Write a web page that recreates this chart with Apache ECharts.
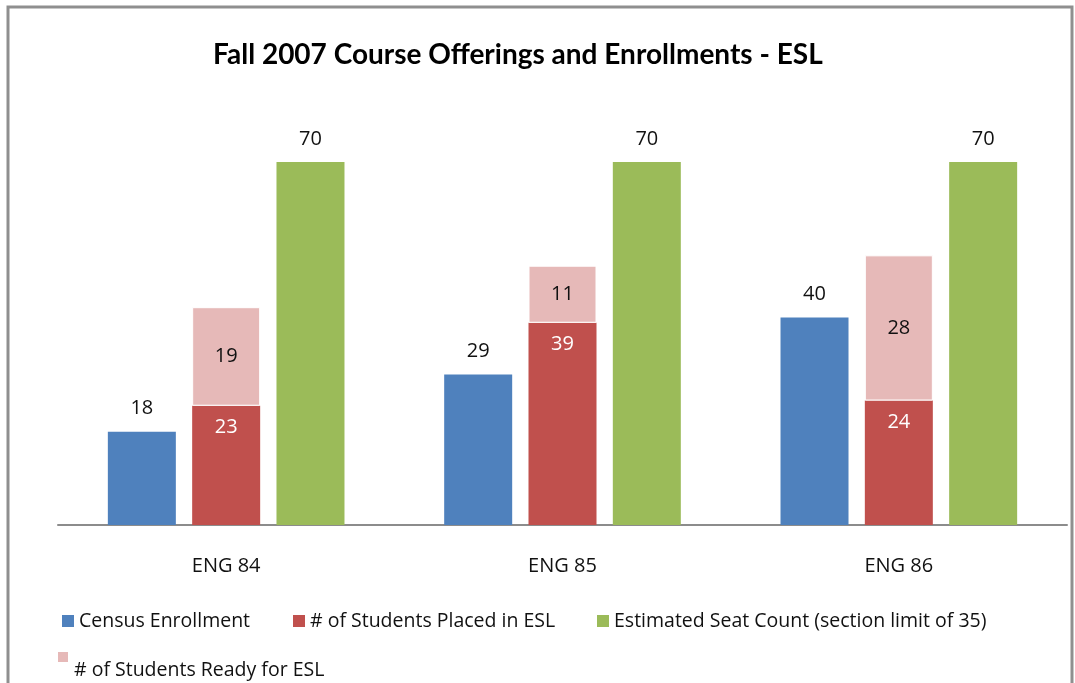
<!DOCTYPE html>
<html>
<head>
<meta charset="utf-8">
<script src="https://cdn.jsdelivr.net/npm/echarts@6/dist/echarts.min.js"></script>
<style>
html,body{margin:0;padding:0;background:#fff;}
#chart{width:1075px;height:683px;}
</style>
</head>
<body>
<div id="chart"></div>
<script>
const titleText = 'Fall 2007 Course Offerings and Enrollments - ESL';
const categories = ['ENG 84', 'ENG 85', 'ENG 86'];
const censusEnrollment = [18, 29, 40];
const placedInESL = [23, 39, 24];
const readyForESL = [19, 11, 28];
const seatCount = [70, 70, 70];
const seriesNames = ['Census Enrollment', '# of Students Placed in ESL', 'Estimated Seat Count (section limit of 35)', '# of Students Ready for ESL'];

const FONT = '"Open Sans", sans-serif';
const chart = echarts.init(document.getElementById('chart'));
const lblTop = { show: true, position: 'top', distance: 13, color: '#111', fontSize: 20, fontFamily: FONT };

const legendBase = (name, left, top) => ({
  data: [name], left: left, top: top, icon: 'rect', itemWidth: 12, itemHeight: 12, itemGap: 5,
  textStyle: { fontFamily: FONT, fontSize: 19.5, color: '#111' }
});

chart.setOption({
  backgroundColor: '#fff',
  animation: false,
  title: {
    text: titleText, left: 208, top: 36,
    textStyle: { fontFamily: 'Lato, sans-serif', fontWeight: 'bold', fontSize: 28, color: '#000' }
  },
  graphic: [{
    type: 'rect', shape: { x: 8, y: 7, width: 1064, height: 700 },
    style: { fill: 'none', stroke: '#8f8f8f', lineWidth: 3 }, silent: true, z: 100
  }],
  legend: [
    legendBase(seriesNames[0], 57, 606),
    legendBase(seriesNames[1], 288, 606),
    legendBase(seriesNames[2], 592, 606),
    Object.assign(legendBase(seriesNames[3], 51, 645), {
      icon: 'path://M0,0H12V12H0Z M0,38.99H12V39H0Z',
      itemWidth: 12, itemHeight: 39, itemGap: 8
    })
  ],
  grid: { left: 58, right: 8, top: 162, bottom: 158 },
  xAxis: {
    type: 'category', data: categories,
    axisLine: { lineStyle: { color: '#8c8c8c', width: 2 } },
    axisTick: { show: false },
    axisLabel: { fontFamily: FONT, fontSize: 20, color: '#111', margin: 31 }
  },
  yAxis: { type: 'value', min: 0, max: 70, show: false, splitLine: { show: false } },
  series: [
    { name: seriesNames[0], type: 'bar', data: censusEnrollment, barWidth: 68, barGap: '24%',
      itemStyle: { color: '#4F81BD' }, label: lblTop },
    { name: seriesNames[1], type: 'bar', stack: 'esl', data: placedInESL, barWidth: 68,
      itemStyle: { color: '#C0504D' },
      label: { show: true, position: 'insideTop', distance: 12, color: '#fff', fontSize: 20, fontFamily: FONT } },
    { name: seriesNames[3], type: 'bar', stack: 'esl', data: readyForESL, barWidth: 68,
      itemStyle: { color: '#E6B9B8', borderColor: '#fff', borderWidth: 1 },
      label: { show: true, position: 'inside', color: '#111', fontSize: 20, fontFamily: FONT } },
    { name: seriesNames[2], type: 'bar', data: seatCount, barWidth: 68,
      itemStyle: { color: '#9BBB59' }, label: lblTop }
  ]
});
</script>
</body>
</html>
